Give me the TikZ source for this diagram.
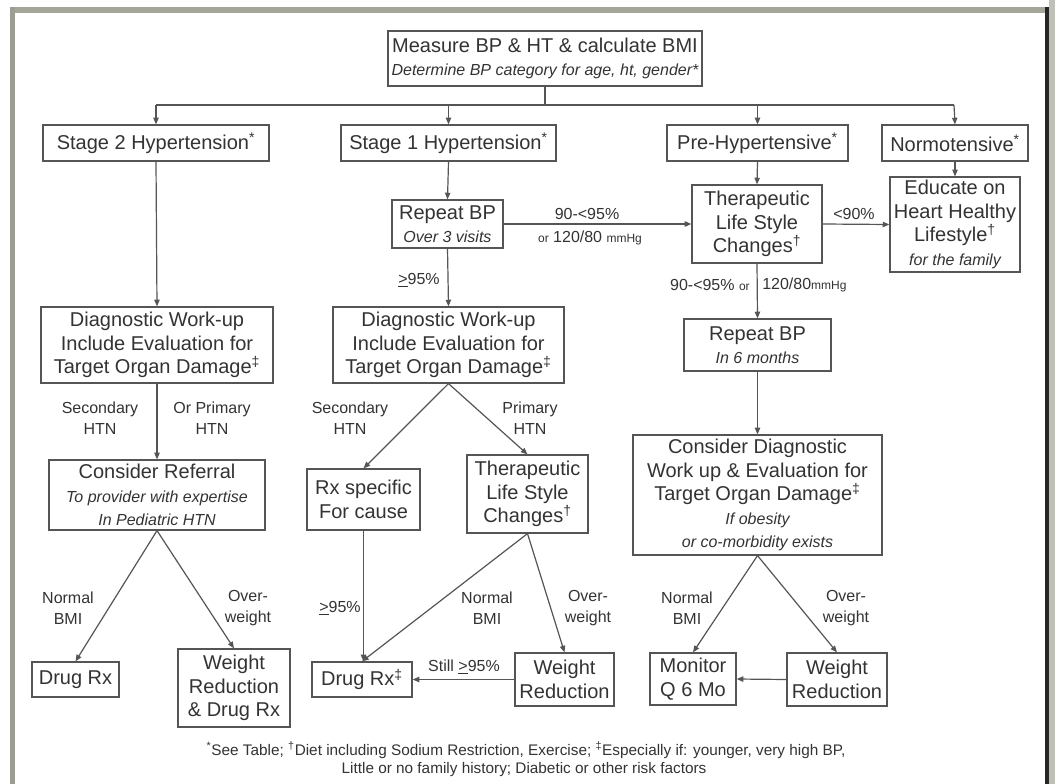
\documentclass[tikz,border=0pt]{standalone}
\usepackage{fontspec}
\setmainfont{Liberation Sans}
\usetikzlibrary{arrows.meta}
\definecolor{ink}{HTML}{333333}
\definecolor{edgec}{HTML}{555555}
\definecolor{frameA}{HTML}{A4A697}
\definecolor{frameB}{HTML}{9B9D92}
\newcommand\mainf{\fontsize{15}{17.6}\selectfont}
\newcommand\subf{\fontsize{12}{15}\selectfont\itshape}
\newcommand\lblf{\fontsize{12}{15.75}\selectfont}
\newcommand\smf{\fontsize{9}{10}\selectfont}
\newcommand\mybox[6]{\node[box, minimum width={(#4-#2)*0.75pt}, minimum height={(#5-#3)*0.75pt}] (#1) at ({(#2+#4)/2},{(#3+#5)/2}) {#6};}
\tikzset{
  box/.style={draw=edgec, line width=0.9pt, fill=white, text=ink, align=center, inner sep=0pt, font=\mainf},
  arr/.style={draw=edgec, line width=0.9pt, -{Triangle[length=5pt,width=4pt]}},
  ln/.style={draw=edgec, line width=0.9pt},
  lbl/.style={text=ink, align=center, inner sep=0pt, font=\lblf},
  foot/.style={text=ink, inner sep=0pt, font=\fontsize{11.5}{14}\selectfont},
}
\begin{document}
\begin{tikzpicture}[x=0.75pt,y=-0.75pt]
\useasboundingbox (0,0) rectangle (1055,784);
\fill[white] (0,0) rectangle (1055,784);
\fill[frameA!70] (1049,0) rectangle (1055,784);
\fill[frameA] (10,7) rectangle (1049,13);
\fill[frameB] (10,7) rectangle (15,784);
\fill[black!85] (1045,7) rectangle (1049,784);

% boxes
\mybox{top}{388}{31}{702}{86}{Measure BP \& HT \& calculate BMI\\\subf Determine BP category for age, ht, gender*}
\mybox{stage2}{43}{125}{269}{161}{Stage 2 Hypertension\textsuperscript{*}}
\mybox{stage1}{341}{125}{556}{161}{Stage 1 Hypertension\textsuperscript{*}}
\mybox{pre}{667}{125}{848}{161}{Pre-Hypertensive\textsuperscript{*}}
\mybox{normo}{882}{125}{1028}{161}{Normotensive\textsuperscript{*}}
\mybox{repeat1}{392}{200}{503}{248}{Repeat BP\\\subf Over 3 visits}
\mybox{tlc1}{692}{185}{822}{263}{Therapeutic\\Life Style\\Changes\textsuperscript{†}}
\mybox{educate}{890}{177}{1020}{272}{Educate on\\Heart Healthy\\Lifestyle\textsuperscript{†}\\\subf for the family}
\mybox{diag2}{41}{307}{273}{383}{Diagnostic Work-up\\Include Evaluation for\\Target Organ Damage\textsuperscript{‡}}
\mybox{diag1}{333}{307}{564}{383}{Diagnostic Work-up\\Include Evaluation for\\Target Organ Damage\textsuperscript{‡}}
\mybox{repeat2}{684}{319}{831}{371}{Repeat BP\\\subf In 6 months}
\mybox{referral}{49}{460}{265}{530}{Consider Referral\\\subf To provider with expertise\\\subf In Pediatric HTN}
\mybox{rxspec}{307}{469}{420}{530}{Rx specific\\For cause}
\mybox{tlc2}{467}{455}{588}{533}{Therapeutic\\Life Style\\Changes\textsuperscript{†}}
\mybox{consdiag}{633}{435}{882}{555}{Consider Diagnostic\\Work up \& Evaluation for\\Target Organ Damage\textsuperscript{‡}\\\subf If obesity\\\subf or co-morbidity exists}
\mybox{drug2}{32}{662}{119}{697}{Drug Rx}
\mybox{wrdrug}{178}{649}{290}{727}{Weight\\Reduction\\\& Drug Rx}
\mybox{drug1}{312}{662}{412}{697}{Drug Rx\textsuperscript{‡}}
\mybox{wr1}{515}{653}{614}{706}{Weight\\Reduction}
\mybox{monitor}{650}{653}{736}{705}{Monitor\\Q 6 Mo}
\mybox{wr2}{787}{653}{887}{706}{Weight\\Reduction}

% branch from top
\coordinate (bm) at (545,105);
\coordinate (bl) at (156,105);
\coordinate (br) at (954,105);
\draw[ln] (top.south) -- (bm);
\draw[ln] (bl) -- (br);
\draw[arr] (bl) -- (stage2.north);
\draw[arr] (stage1.north |- bm) -- (stage1.north);
\draw[arr] (pre.north |- bm) -- (pre.north);
\draw[arr] (br) -- (normo.north);

% connectors
\draw[arr] (stage2.south) -- (diag2.north);
\draw[arr] (stage1.south) -- (repeat1.north);
\draw[arr] (repeat1.east) -- (tlc1.west);
\draw[arr] (repeat1.south) -- (diag1.north);
\draw[arr] (pre.south) -- (tlc1.north);
\draw[arr] (normo.south) -- (educate.north);
\draw[arr] (tlc1.east) -- (educate.west);
\draw[arr] (tlc1.south) -- (repeat2.north);
\draw[arr] (repeat2.south) -- (consdiag.north);
\draw[arr] (diag2.south) -- (referral.north);
\draw[arr] (diag1.south) -- (rxspec.north);
\draw[arr] (diag1.south) -- (tlc2.north);
\draw[arr] (referral.south) -- (drug2.north);
\draw[arr] (referral.south) -- (wrdrug.north);
\draw[arr] (rxspec.south) -- (rxspec.south |- drug1.north);
\draw[arr] (tlc2.south) -- (drug1.north);
\draw[arr] (tlc2.south) -- (wr1.north);
\draw[arr] (wr1.west) -- (drug1.east);
\draw[arr] (consdiag.south) -- (monitor.north);
\draw[arr] (consdiag.south) -- (wr2.north);
\draw[arr] (wr2.west) -- (monitor.east);

% labels
\node[lbl] (la1) at (587,214) {90-<95\%};
\node[lbl] (la2) at (590,238) {{\smf or} 120/80 {\smf mmHg}};
\node[lbl] (lb) at (419,280) {\underline{>}95\%};
\node[lbl] (lc) at (854,214) {<90\%};
\node[lbl, anchor=east] (ld1) at (750,285) {90-<95\% {\smf or}};
\node[lbl, anchor=west] (ld2) at (762,285) {120/80{\smf mmHg}};
\node[lbl] (le1) at (100,418) {Secondary\\HTN};
\node[lbl] (le2) at (212,418) {Or Primary\\HTN};
\node[lbl] (lf1) at (350,418) {Secondary\\HTN};
\node[lbl] (lf2) at (530,418) {Primary\\HTN};
\node[lbl] (lg1) at (68,608) {Normal\\BMI};
\node[lbl] (lg2) at (248,608) {Over-\\weight};
\node[lbl] (lh) at (340,608) {\underline{>}95\%};
\node[lbl] (li1) at (487,608) {Normal\\BMI};
\node[lbl] (li2) at (588,608) {Over-\\weight};
\node[lbl] (lj) at (464,667) {Still \underline{>}95\%};
\node[lbl] (lk1) at (687,608) {Normal\\BMI};
\node[lbl] (lk2) at (846,608) {Over-\\weight};

% footnote
\node[foot] (fn1) at (526,750) {\textsuperscript{*}See Table; \textsuperscript{†}Diet including Sodium Restriction, Exercise; \textsuperscript{‡}Especially if: younger, very high BP,};
\node[foot] (fn2) at (524,770) {Little or no family history; Diabetic or other risk factors};
\end{tikzpicture}
\end{document}
